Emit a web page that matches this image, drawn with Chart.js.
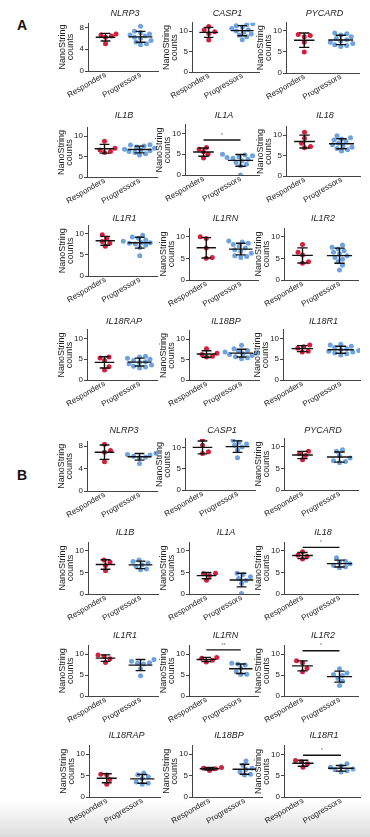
<!DOCTYPE html>
<html>
<head>
<meta charset="utf-8">
<script src="https://cdn.jsdelivr.net/npm/chart.js@4.4.1/dist/chart.umd.min.js"></script>
<style>
  body { margin: 0; width: 370px; height: 837px; background: #fff; position: relative; overflow: hidden; font-family: "Liberation Sans", Arial, sans-serif; }
  canvas { position: absolute; }
  .tag { position: absolute; left: 17px; font-size: 14px; line-height: 14px; font-weight: bold; color: #111; }
  #shade { position: absolute; left: 0; top: 802px; width: 370px; height: 35px; background: linear-gradient(rgba(255,255,255,0), #dcdcdc); }
</style>
</head>
<body>
<div class="tag" style="top:18px">A</div>
<div class="tag" style="top:468px">B</div>
<div id="shade"></div>
<script>
const genes = ['NLRP3', 'CASP1', 'PYCARD', 'IL1B', 'IL1A', 'IL18', 'IL1R1', 'IL1RN', 'IL1R2', 'IL18RAP', 'IL18BP', 'IL18R1'];
const groups = ['Responders', 'Progressors'];

// y axis: top value and tick step, per gene
const axisMax = [8.8, 12, 12, 12, 12, 12, 12, 12, 12, 12, 12, 12];
const tickStep = [2, 5, 5, 5, 5, 5, 5, 5, 5, 5, 5, 5];

// panel A (cohort 1)
const respondersA = [
  [6.8, 6.6, 6.4, 6.2, 5.0],
  [11.1, 10.3, 9.8, 9.4, 7.8],
  [9.1, 8.9, 8.6, 7.3, 5.0],
  [8.7, 7.0, 6.6, 6.2, 6.0],
  [6.6, 6.2, 5.6, 5.0, 4.1],
  [10.7, 9.2, 8.0, 7.2, 6.9],
  [9.8, 9.0, 8.2, 7.8, 7.1],
  [10.0, 9.6, 7.4, 5.2, 5.0],
  [8.2, 6.4, 5.8, 4.2, 3.9],
  [5.5, 5.3, 4.7, 3.2, 2.4],
  [7.6, 6.5, 6.2, 5.8, 5.6],
  [8.4, 8.0, 7.6, 6.9, 6.7]
];
const progressorsA = [
  [8.2, 7.3, 7.0, 6.8, 6.6, 6.4, 6.2, 6.0, 5.6, 5.3, 5.0, 4.8],
  [11.8, 11.6, 11.3, 11.0, 10.6, 10.3, 10.0, 9.7, 9.3, 9.0, 8.6, 7.9],
  [9.5, 9.3, 9.0, 8.6, 8.2, 7.9, 7.6, 7.3, 7.0, 6.7, 6.5, 6.3],
  [7.9, 7.8, 7.6, 7.3, 7.0, 6.8, 6.6, 6.4, 6.2, 6.0, 5.7, 5.4],
  [5.0, 4.8, 4.6, 4.4, 4.2, 4.0, 3.8, 3.4, 3.0, 2.6, 2.2, 0.0],
  [9.8, 9.3, 9.0, 8.8, 8.4, 8.0, 7.6, 7.3, 7.0, 6.7, 6.4, 6.1],
  [9.7, 9.3, 9.0, 8.6, 8.3, 8.0, 7.9, 7.8, 7.6, 7.3, 6.8, 4.8],
  [9.0, 8.8, 8.5, 8.2, 7.8, 7.4, 7.0, 6.6, 6.2, 5.6, 5.4, 5.2],
  [8.1, 7.6, 7.2, 6.8, 6.4, 6.0, 5.6, 5.2, 4.8, 4.2, 3.4, 2.3],
  [5.7, 5.5, 5.2, 5.0, 4.7, 4.4, 4.2, 3.9, 3.6, 3.3, 3.1, 2.9],
  [8.5, 7.6, 7.2, 7.0, 6.8, 6.6, 6.4, 6.2, 6.0, 5.7, 5.4, 5.2],
  [8.6, 8.4, 8.1, 7.8, 7.5, 7.3, 7.1, 6.9, 6.7, 6.5, 6.3, 6.0]
];
const starsA = ['', '', '', '', '*', '', '', '', '', '', '', ''];
const barA = [0, 0, 0, 0, 8.4, 0, 0, 0, 0, 0, 0, 0];

// panel B (cohort 2)
const respondersB = [
  [8.3, 7.2, 6.9, 5.2],
  [11.9, 10.5, 9.0, 8.6],
  [9.0, 8.4, 8.0, 7.0],
  [7.9, 7.4, 6.6, 5.4],
  [4.8, 4.7, 4.3, 3.2],
  [9.8, 9.0, 8.7, 8.1],
  [9.8, 9.4, 8.9, 8.0],
  [9.2, 9.0, 8.5, 8.1],
  [8.4, 7.9, 6.6, 5.8],
  [5.3, 5.1, 4.1, 3.0],
  [6.9, 6.7, 6.6, 6.2],
  [8.6, 8.3, 7.8, 7.0]
];
const progressorsB = [
  [6.7, 6.5, 6.4, 6.2, 6.0, 5.9, 4.9],
  [11.7, 11.2, 10.8, 10.5, 10.1, 9.4, 7.6],
  [9.3, 9.0, 8.0, 7.4, 6.8, 6.6, 6.3],
  [7.9, 7.5, 7.2, 6.8, 6.4, 5.8, 5.6],
  [4.8, 4.5, 4.0, 3.6, 3.1, 2.5, 0.1],
  [8.4, 7.6, 7.3, 7.0, 6.6, 6.3, 6.1],
  [8.7, 8.3, 7.9, 7.8, 7.6, 6.5, 4.8],
  [7.8, 7.6, 7.4, 6.6, 5.8, 5.2, 5.1],
  [6.5, 5.5, 5.1, 4.9, 4.2, 3.6, 2.5],
  [5.6, 5.2, 4.7, 4.3, 3.5, 3.2, 3.0],
  [8.4, 7.4, 6.7, 6.4, 5.9, 5.3, 5.1],
  [7.8, 7.3, 7.0, 6.6, 6.4, 6.2, 5.9]
];
const starsB = ['', '', '', '', '', '*', '', '**', '*', '', '', '*'];
const barB = [0, 0, 0, 0, 0, 10.8, 0, 11.0, 10.8, 0, 0, 9.8];

// page layout, one row per line of panels (page pixels)
const axisLeft = [[88, 192, 286], [87, 185, 286], [88, 189, 284], [87, 189, 283], [87, 185, 284], [88, 189, 284], [88, 189, 284], [89, 192, 284]];
const axisRight = [[158, 259, 359], [157, 259, 360], [157, 258, 358], [157, 259, 360], [157, 255, 358], [158, 259, 358], [158, 258, 358], [160, 262, 360]];
const zeroY = [[71, 71.7, 72.3], [176.7, 175, 176], [276, 280, 279.3], [380, 380, 380], [490.7, 489.3, 489.3], [593.3, 593.3, 593.3], [695.7, 695.7, 695.7], [796.5, 796.5, 796]];
const unitPx = [[5.45, 4.07, 4.16], [4.07, 4.17, 4.1], [4.2, 4.33, 4.26], [4.17, 4.1, 4.17], [5.59, 4.2, 4.26], [4.26, 4.26, 4.26], [4.17, 4.17, 4.17], [4.25, 4.25, 4.17]];
const titleY = [13.5, 115.3, 218.5, 321.7, 430, 532, 635, 735];

const RED = '#d3203c';
const BLUE = '#6ea3e0';
const INK = '#222';
const Y_AXIS_W = 32;
const X_AXIS_H = 34;
const X_MIN = 0.5, X_MAX = 2.5;

Chart.defaults.font.family = '"Liberation Sans", Arial, sans-serif';
Chart.defaults.color = INK;

// spread dots sideways so they do not overlap (simple beeswarm)
function swarm(values, center, pxPerX, pxPerY) {
  const d = 5.0;
  const placed = [];
  const order = values.map((v, i) => i).sort((a, b) => values[a] - values[b]);
  const pts = [];
  let flip = 1;
  order.forEach(i => {
    const py = values[i] * pxPerY;
    let off = 0;
    for (let k = 0; k < 40; k++) {
      const step = Math.ceil(k / 2) * 1.5;
      const cand = k === 0 ? 0 : (k % 2 ? step * flip : -step * flip);
      const clash = placed.some(p => (p.x - cand) ** 2 + (p.y - py) ** 2 < d * d);
      if (!clash) { off = cand; break; }
    }
    if (off !== 0) flip = -flip;
    placed.push({ x: off, y: py });
    pts.push({ x: center + off / pxPerX, y: values[i] });
  });
  return pts;
}

const panelPlugin = {
  id: 'panel',
  afterDatasetsDraw(chart, args, opts) {
    const { ctx, chartArea, scales: { x, y } } = chart;
    ctx.save();
    ctx.strokeStyle = '#111';
    ctx.lineWidth = 1.4;
    chart.data.datasets.forEach((ds, i) => {
      const vals = ds.data.map(p => p.y);
      const m = vals.reduce((a, b) => a + b, 0) / vals.length;
      const sd = Math.sqrt(vals.reduce((a, b) => a + (b - m) ** 2, 0) / (vals.length - 1));
      const c = i + 1;
      const hw = i === 0 ? 0.28 : 0.34;
      const cw = 0.14;
      const ym = y.getPixelForValue(m);
      const ylo = y.getPixelForValue(m - sd);
      const yhi = y.getPixelForValue(m + sd);
      ctx.beginPath();
      ctx.moveTo(x.getPixelForValue(c - hw), ym);
      ctx.lineTo(x.getPixelForValue(c + hw), ym);
      ctx.moveTo(x.getPixelForValue(c), ylo);
      ctx.lineTo(x.getPixelForValue(c), yhi);
      ctx.moveTo(x.getPixelForValue(c - cw), ylo);
      ctx.lineTo(x.getPixelForValue(c + cw), ylo);
      ctx.moveTo(x.getPixelForValue(c - cw), yhi);
      ctx.lineTo(x.getPixelForValue(c + cw), yhi);
      ctx.stroke();
    });
    if (opts.star) {
      const yb = y.getPixelForValue(opts.barAt);
      ctx.beginPath();
      ctx.moveTo(x.getPixelForValue(1), yb);
      ctx.lineTo(x.getPixelForValue(2), yb);
      ctx.stroke();
      ctx.fillStyle = '#777';
      ctx.font = '6px "Liberation Sans", Arial, sans-serif';
      ctx.textAlign = 'center';
      ctx.textBaseline = 'bottom';
      ctx.fillText(opts.star, x.getPixelForValue(1.5), yb - 2);
    }
    ctx.fillStyle = INK;
    ctx.font = 'italic 9px "Liberation Sans", Arial, sans-serif';
    ctx.textAlign = 'center';
    ctx.textBaseline = 'middle';
    ctx.fillText(opts.title, (chartArea.left + chartArea.right) / 2 + 2, opts.titleY);
    ctx.restore();
  }
};

function drawPanel(row, col, g, resp, prog, star, barAt) {
  const left = axisLeft[row][col], right = axisRight[row][col];
  const zero = zeroY[row][col], unit = unitPx[row][col];
  const plotW = right - left;
  const plotH = axisMax[g] * unit;
  const top = Math.round(titleY[row] - 8);
  const padTop = zero - plotH - top;
  const canvas = document.createElement('canvas');
  canvas.width = Y_AXIS_W + plotW + 4;
  canvas.height = Math.ceil(padTop + plotH + X_AXIS_H);
  canvas.style.left = (left - Y_AXIS_W) + 'px';
  canvas.style.top = top + 'px';
  document.body.appendChild(canvas);
  const pxPerX = plotW / (X_MAX - X_MIN);

  new Chart(canvas.getContext('2d'), {
    type: 'scatter',
    data: {
      datasets: [
        { label: groups[0], data: swarm(resp, 1, pxPerX, unit), backgroundColor: RED, pointRadius: 2.5, borderWidth: 0 },
        { label: groups[1], data: swarm(prog, 2, pxPerX, unit), backgroundColor: BLUE, pointRadius: 2.5, borderWidth: 0 }
      ]
    },
    options: {
      responsive: false,
      animation: false,
      devicePixelRatio: 1,
      layout: { padding: { top: padTop, right: 4, left: 0, bottom: 0 } },
      plugins: {
        legend: { display: false },
        tooltip: { enabled: false },
        panel: { title: genes[g], titleY: titleY[row] - top, star: star, barAt: barAt }
      },
      scales: {
        x: {
          type: 'linear',
          min: X_MIN,
          max: X_MAX,
          afterBuildTicks: ax => { ax.ticks = [{ value: 1 }, { value: 2 }]; },
          afterFit: ax => { ax.height = X_AXIS_H; },
          ticks: {
            callback: v => groups[v - 1],
            minRotation: 30,
            maxRotation: 30,
            autoSkip: false,
            padding: -1,
            font: { size: 8 }
          },
          grid: { display: false, drawTicks: false },
          border: { color: '#444', width: 1 }
        },
        y: {
          min: 0,
          max: axisMax[g],
          afterFit: ax => { ax.width = Y_AXIS_W; },
          ticks: { stepSize: tickStep[g], includeBounds: false, padding: 1, font: { size: 8 } },
          grid: { drawOnChartArea: false, tickLength: 3, color: '#444' },
          border: { color: '#444', width: 1 },
          title: {
            display: true,
            text: ['NanoString', 'counts'],
            font: { size: 9, lineHeight: 0.85 },
            padding: { top: 3, bottom: 0 }
          }
        }
      }
    },
    plugins: [panelPlugin]
  });
}

genes.forEach((gene, g) => {
  const row = Math.floor(g / 3), col = g % 3;
  drawPanel(row, col, g, respondersA[g], progressorsA[g], starsA[g], barA[g]);
  drawPanel(row + 4, col, g, respondersB[g], progressorsB[g], starsB[g], barB[g]);
});
</script>
</body>
</html>
